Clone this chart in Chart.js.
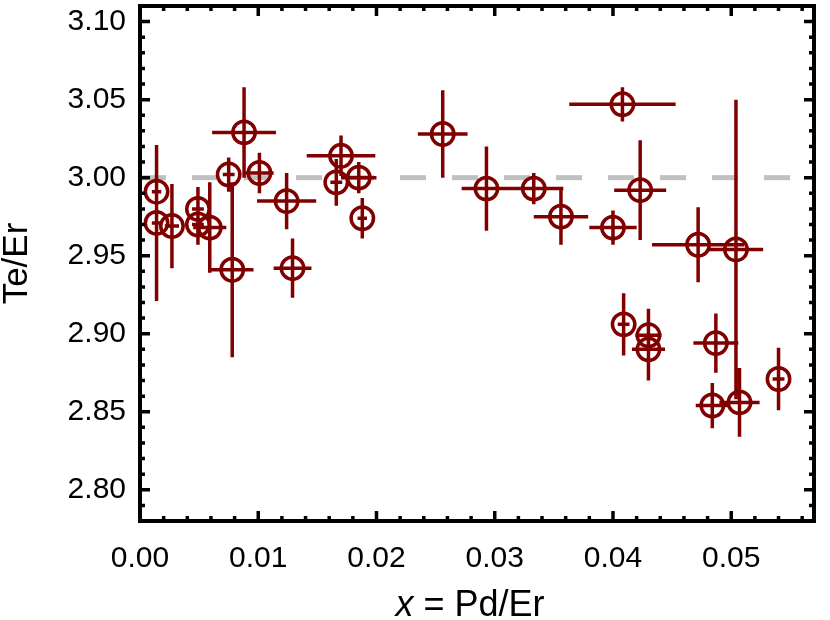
<!DOCTYPE html>
<html>
<head>
<meta charset="utf-8">
<script src="https://cdn.jsdelivr.net/npm/chart.js@4.4.1/dist/chart.umd.min.js"></script>
<style>
  html, body { margin: 0; padding: 0; background: #fff; }
</style>
</head>
<body>
<canvas id="chart" width="830" height="620"></canvas>
<script>
// Te/Er ratio vs Pd content x
const xVals = [0.0014, 0.0014, 0.0027, 0.0049, 0.0049, 0.0059, 0.0078, 0.0075, 0.0088, 0.0101,
               0.0124, 0.0129, 0.0170, 0.0166, 0.0185, 0.0188, 0.0256, 0.0293, 0.0333, 0.0356,
               0.0400, 0.0408, 0.0423, 0.0472, 0.0504, 0.0409, 0.0430, 0.0430, 0.0487, 0.0484,
               0.0507, 0.0540];
const yVals = [2.991, 2.971, 2.969, 2.980, 2.970, 2.968, 2.941, 3.002, 3.029, 3.003,
               2.985, 2.942, 3.014, 2.997, 3.000, 2.974, 3.028, 2.993, 2.993, 2.975,
               2.968, 3.047, 2.992, 2.957, 2.954, 2.906, 2.899, 2.890, 2.894, 2.854,
               2.856, 2.871];
const xErr = [0.0004, 0.0004, 0.0006, 0.0005, 0.0005, 0.0014, 0.0018, 0.0005, 0.0027, 0.0012,
              0.0025, 0.0016, 0.0029, 0.0005, 0.0015, 0.0004, 0.0021, 0.0021, 0.0025, 0.0023,
              0.0020, 0.0045, 0.0022, 0.0039, 0.0023, 0.0005, 0.0011, 0.0014, 0.0019, 0.0014,
              0.0017, 0.0005];
const yErr = [0.029, 0.050, 0.027, 0.014, 0.013, 0.029, 0.056, 0.011, 0.029, 0.013,
              0.018, 0.019, 0.013, 0.015, 0.010, 0.013, 0.028, 0.027, 0.010, 0.018,
              0.011, 0.011, 0.032, 0.024, 0.096, 0.020, 0.017, 0.020, 0.019, 0.0145,
              0.022, 0.020];
const refLevel = 3.00;
const xTicks = [0.00, 0.01, 0.02, 0.03, 0.04, 0.05];
const yTicks = [2.80, 2.85, 2.90, 2.95, 3.00, 3.05, 3.10];

const red = '#800000';
const fontFam = '"Liberation Sans", Arial, sans-serif';

// error bars through every point
const errorBars = {
  id: 'errorBars',
  afterDatasetsDraw(chart) {
    const { ctx, scales: { x, y } } = chart;
    ctx.save();
    ctx.strokeStyle = red;
    ctx.lineWidth = 3.5;
    ctx.beginPath();
    xVals.forEach((xv, i) => {
      const px = x.getPixelForValue(xv), py = y.getPixelForValue(yVals[i]);
      ctx.moveTo(x.getPixelForValue(xv - xErr[i]), py);
      ctx.lineTo(x.getPixelForValue(xv + xErr[i]), py);
      ctx.moveTo(px, y.getPixelForValue(yVals[i] + yErr[i]));
      ctx.lineTo(px, y.getPixelForValue(yVals[i] - yErr[i]));
    });
    ctx.stroke();
    ctx.restore();
  }
};

// box frame with inward ticks on all four sides, plus the x title
const frame = {
  id: 'frame',
  afterDraw(chart) {
    const { ctx, chartArea: a, scales: { x, y } } = chart;
    ctx.save();
    ctx.strokeStyle = '#000';
    ctx.lineWidth = 3.5;
    ctx.beginPath();
    for (let i = 0; i * 0.002 <= x.max + 1e-9; i++) {
      const px = x.getPixelForValue(i * 0.002);
      const len = i % 5 === 0 ? 10 : 5;
      ctx.moveTo(px, a.bottom); ctx.lineTo(px, a.bottom - len);
      ctx.moveTo(px, a.top); ctx.lineTo(px, a.top + len);
    }
    for (let i = Math.ceil(y.min * 100 - 1e-6); i / 100 <= y.max + 1e-9; i++) {
      const py = y.getPixelForValue(i / 100);
      const len = i % 5 === 0 ? 10 : 5;
      ctx.moveTo(a.left, py); ctx.lineTo(a.left + len, py);
      ctx.moveTo(a.right, py); ctx.lineTo(a.right - len, py);
    }
    ctx.stroke();
    ctx.lineWidth = 4;
    ctx.strokeRect(a.left, a.top, a.right - a.left, a.bottom - a.top);

    // x axis title with italic x
    const parts = [['italic 36px ' + fontFam, 'x'], ['36px ' + fontFam, ' = Pd/Er']];
    let total = 0;
    parts.forEach(p => { ctx.font = p[0]; total += ctx.measureText(p[1]).width; });
    let cx = (a.left + a.right) / 2 - total / 2 - 7;
    ctx.fillStyle = '#000';
    ctx.textBaseline = 'alphabetic';
    parts.forEach(p => {
      ctx.font = p[0];
      ctx.fillText(p[1], cx, 616);
      cx += ctx.measureText(p[1]).width;
    });
    ctx.restore();
  }
};

const ctx = document.getElementById('chart').getContext('2d');
new Chart(ctx, {
  data: {
    datasets: [{
      type: 'line',
      data: [{ x: 0, y: refLevel }, { x: 0.057, y: refLevel }],
      borderColor: '#c0c0c0',
      borderWidth: 5,
      borderDash: [26, 26],
      pointRadius: 0,
      order: 2
    }, {
      type: 'scatter',
      data: xVals.map((xv, i) => ({ x: xv, y: yVals[i] })),
      borderColor: red,
      backgroundColor: 'rgba(0,0,0,0)',
      borderWidth: 3.5,
      pointRadius: 11.2,
      pointHoverRadius: 11.2,
      order: 1
    }]
  },
  options: {
    responsive: false,
    animation: false,
    devicePixelRatio: 1,
    layout: { autoPadding: false, padding: { left: 0, right: 16, top: 6, bottom: 0 } },
    plugins: { legend: { display: false }, tooltip: { enabled: false } },
    scales: {
      x: {
        type: 'linear',
        min: 0,
        max: 0.057,
        grid: { display: false, drawTicks: false },
        border: { display: false },
        afterBuildTicks: s => { s.ticks = xTicks.map(v => ({ value: v })); },
        afterFit: s => { s.height = 99; s.paddingLeft = 0; s.paddingRight = 0; },
        ticks: {
          padding: 20,
          color: '#000',
          font: { family: fontFam, size: 30 },
          callback: v => v.toFixed(2)
        }
      },
      y: {
        type: 'linear',
        min: 2.78,
        max: 3.11,
        grid: { display: false, drawTicks: false },
        border: { display: false },
        afterBuildTicks: s => { s.ticks = yTicks.map(v => ({ value: v })); },
        afterFit: s => { s.width = 140; s.paddingTop = 0; s.paddingBottom = 0; },
        title: {
          display: true,
          text: 'Te/Er',
          color: '#000',
          font: { family: fontFam, size: 35, lineHeight: 1 },
          padding: 0
        },
        ticks: {
          padding: 14,
          color: '#000',
          font: { family: fontFam, size: 30 },
          callback: v => v.toFixed(2)
        }
      }
    }
  },
  plugins: [errorBars, frame]
});
</script>
</body>
</html>
